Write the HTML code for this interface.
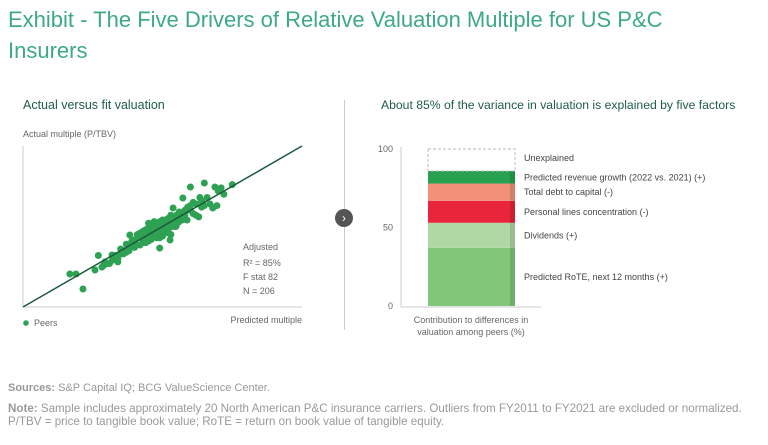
<!DOCTYPE html>
<html><head><meta charset="utf-8"><style>
body{margin:0;width:768px;height:445px;background:#fff;font-family:"Liberation Sans",sans-serif;overflow:hidden;position:relative}
.t{position:absolute;white-space:nowrap}
</style></head><body>
<div class="t" style="left:8px;top:4px;font-size:22px;line-height:31px;color:#3ea988;white-space:normal;width:700px">Exhibit - The Five Drivers of Relative Valuation Multiple for US P&amp;C Insurers</div>
<div class="t" style="left:23px;top:98px;font-size:12.5px;color:#1f5c45">Actual versus fit valuation</div>
<div class="t" style="left:381px;top:98px;font-size:12.2px;color:#1f5c45">About 85% of the variance in valuation is explained by five factors</div>
<div style="position:absolute;left:344px;top:100px;width:1px;height:230px;background:#ccc"></div>
<div style="position:absolute;left:335px;top:209px;width:18px;height:18px;border-radius:50%;background:#555;color:#fff;font-size:12px;line-height:18px;text-align:center">›</div>
<svg width="768" height="445" style="position:absolute;left:0;top:0" id="svg">
<g font-family="Liberation Sans, sans-serif" fill="#666">
<text x="23" y="137" font-size="9">Actual multiple (P/TBV)</text>
<text x="302" y="323" font-size="9" text-anchor="end">Predicted multiple</text>
<circle cx="26" cy="323" r="2.8" fill="#2ea153"/>
<text x="34" y="326" font-size="9">Peers</text>
<g font-size="9">
<text x="243" y="250">Adjusted</text><text x="243" y="266">R² = 85%</text><text x="243" y="280">F stat 82</text><text x="243" y="294">N = 206</text></g>
<line x1="23" y1="146" x2="23" y2="307" stroke="#ccc"/>
<line x1="23" y1="307" x2="302" y2="307" stroke="#ccc"/>
<g id="pts"></g>
<line id="fit" stroke="#1d5a3c" stroke-width="1.5"/>
<g font-size="9" text-anchor="end" id="ticks"></g>
<line x1="401" y1="147" x2="401" y2="307" stroke="#ccc"/>
<line x1="401" y1="307" x2="541" y2="307" stroke="#ccc"/>
<g id="bars"></g>
<text x="471" y="323" font-size="9" text-anchor="middle">Contribution to differences in</text>
<text x="471" y="335" font-size="9" text-anchor="middle">valuation among peers (%)</text>
</g>
</svg>
<div class="t" style="left:8px;top:382px;font-size:11px;color:#999"><b>Sources:</b> S&amp;P Capital IQ; BCG ValueScience Center.</div>
<div class="t" style="left:8px;top:403px;font-size:11.6px;line-height:12.5px;color:#999;letter-spacing:0px"><b>Note:</b> Sample includes approximately 20 North American P&amp;C insurance carriers. Outliers from FY2011 to FY2021 are excluded or normalized.<br>P/TBV = price to tangible book value; RoTE = return on book value of tangible equity.</div>
<script>
const ptsX=[21.5,16.8,19,25.8,27,65,60,68.8,71,75,57.3,63.4,69.5,65,68,63,58,58.8,54.8,53.8,50.9,52.7,49,40,41.9,31.9,29.4,34,28.3,38.3,40,
42,44,46,48,50,52,54,45,47,49,51,53,55,43,41,39,37,35,33,36,44,46,48,50,52,56,58,60,62,64,45,47,49,51,53,43,45,47,49,51,55,57,59,61,40,42,44,38,36,34,32,30,46,50,54,48,52,56,60,66,70,72,62,64,67,
45,43,41,39,49,55,47,51,53,57,59,61,35,37,42,44,
44,46,48,50,52,43,45,47,49,51,53,46,48,50,40,42,38,36,33,31,29,55,57,52,54,56,58,48,50,44,47];
const ptsY=[11.2,20.5,20.5,23,32,77,74.5,74.5,74,76,67.7,68,63,63,61.5,56,60,54,50,61.5,47,41.6,36.6,37,38.5,32.3,28,28,24.8,44.7,41.6,
44,42,48,46,50,49,53,47,45,52,47,50,57,40,45,38,39,33,31,35,48,44,51,44,55,53,59,60,57,62,41,50,43,54,45,47,52,49,45,48,51,58,62,58,41,46,40,35,33,30,29,27,46,53,50,50,48,59,63,68,72,70,64,66,64,
49,43,43,41,53,55,50,47,57,54,61,65,36,34,43,48,
46,47,45,48,51,43,44,48,47,50,52,42,46,54,40,44,37,34,32,27,26,51,56,46,53,55,57,43,49,45,53];
const lineDom=[0,100];
const tickVals=[0,50,100];
const segNames=["Predicted RoTE, next 12 months (+)","Dividends (+)","Personal lines concentration (-)","Total debt to capital (-)","Predicted revenue growth (2022 vs. 2021) (+)"];
const segVals=[37,16,14,11,8];
const segColors=["#82c67a","#afd8a5","#e8253a","#f29178","#27a150"];
const sx=v=>23+v*2.79, sy=v=>307-v*1.61;
const by=v=>306-v*1.57;
const NS="http://www.w3.org/2000/svg";
const pg=document.getElementById('pts');
ptsX.forEach((x,i)=>{const c=document.createElementNS(NS,'circle');
c.setAttribute('cx',sx(x));c.setAttribute('cy',sy(ptsY[i]));c.setAttribute('r',3.5);c.setAttribute('fill','#2ea153');


pg.appendChild(c);});
const f=document.getElementById('fit');
f.setAttribute('x1',sx(lineDom[0]));f.setAttribute('y1',sy(lineDom[0]));f.setAttribute('x2',sx(lineDom[1]));f.setAttribute('y2',sy(lineDom[1]));
const tg=document.getElementById('ticks');
tickVals.forEach(v=>{const t=document.createElementNS(NS,'text');t.setAttribute('x',393);t.setAttribute('y',by(v)+3);t.textContent=v;


tg.appendChild(t);});
const bg=document.getElementById('bars');
let cum=0;
segVals.forEach((v,i)=>{const r=document.createElementNS(NS,'rect');
r.setAttribute('x',428);r.setAttribute('width',87);r.setAttribute('y',by(cum+v));r.setAttribute('height',by(cum)-by(cum+v));r.setAttribute('fill',segColors[i]);


bg.appendChild(r);
const s=document.createElementNS(NS,'rect');s.setAttribute('x',510);s.setAttribute('width',5);s.setAttribute('y',by(cum+v));s.setAttribute('height',by(cum)-by(cum+v));s.setAttribute('fill','rgba(0,0,0,0.12)');


bg.appendChild(s);
const t=document.createElementNS(NS,'text');t.setAttribute('x',524);t.setAttribute('y',by(cum+v/2)+3);t.setAttribute('font-size',9);t.setAttribute('fill','#444');t.textContent=segNames[i];


bg.appendChild(t);
cum+=v;});
const u=document.createElementNS(NS,'rect');u.setAttribute('x',428);u.setAttribute('width',87);u.setAttribute('y',by(100));u.setAttribute('height',by(cum)-by(100));u.setAttribute('fill','none');u.setAttribute('stroke','#bbb');u.setAttribute('stroke-dasharray','3,2');


bg.appendChild(u);
const ut=document.createElementNS(NS,'text');ut.setAttribute('x',524);ut.setAttribute('y',by((100+cum)/2)+1);ut.setAttribute('font-size',9);ut.setAttribute('fill','#444');ut.textContent='Unexplained';


bg.appendChild(ut);
</script>
</body></html>
